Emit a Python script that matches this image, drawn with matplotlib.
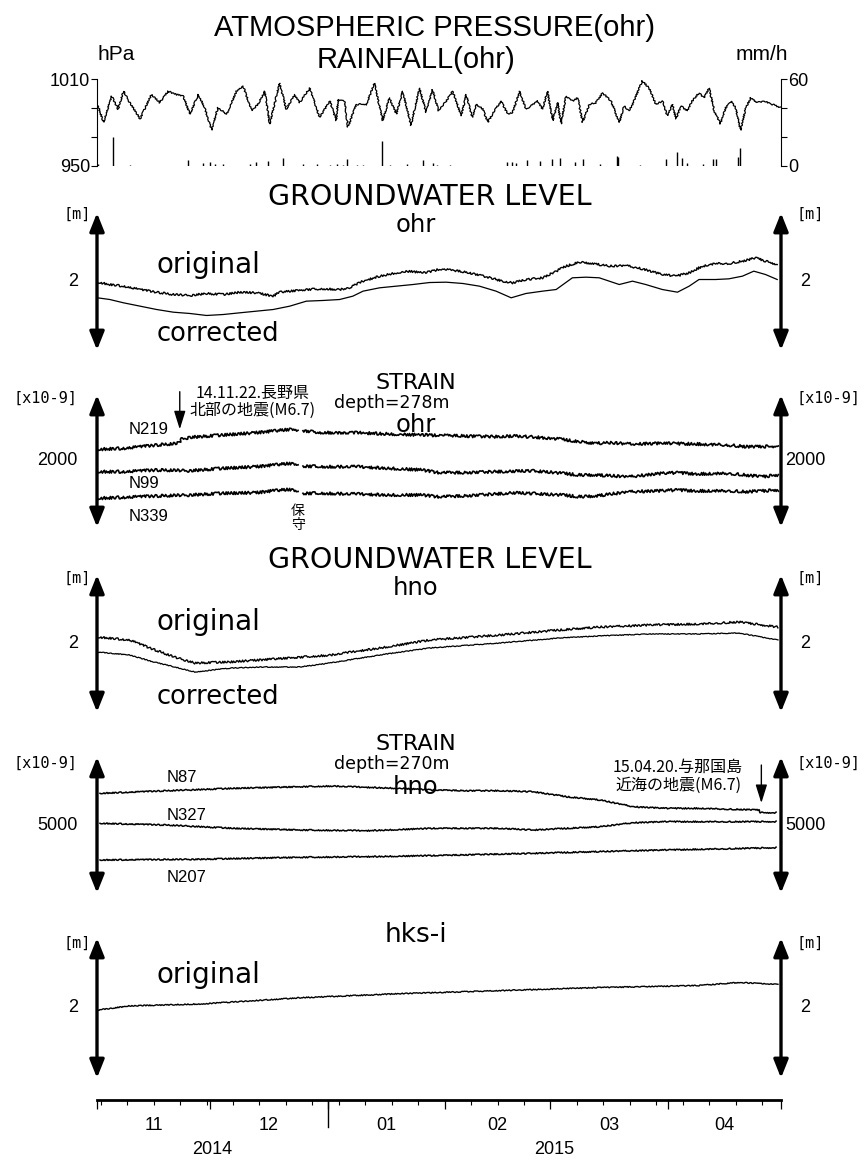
import numpy as np
import pandas as pd
import matplotlib
matplotlib.use('Agg')
import matplotlib.pyplot as plt
from matplotlib import font_manager

# time axis: days counted from 2014-11-01
START = pd.Timestamp('2014-11-01')
END = pd.Timestamp('2015-05-01')
NDAYS = (END - START).days
nan = np.nan

# ---- atmospheric pressure (hPa) and rainfall (mm/h), ohr ----
pres_day = [0, 1.7, 3.9, 5.6, 7.0, 8.7, 11.4, 14.4, 16.6, 18.8,
            21.1, 22.8, 24.6, 26.8, 28.5, 30.3, 32.0, 34.3, 36.9, 38.7,
            40.9, 42.6, 44.4, 45.7, 48.3, 50.1, 52.3, 53.6, 56.3, 58.9,
            61.6, 63.3, 63.8, 65.5, 66.4, 68.6, 71.3, 73.4, 75.6, 77.4,
            79.2, 80.9, 83.1, 85.3, 87.1, 88.8, 90.4, 92.4, 94.1, 96.4,
            97.7, 99.3, 100.3, 102.1, 103.4, 105.2, 106.9, 108.7, 110.0, 111.8,
            113.5, 114.8, 116.6, 117.9, 119.2, 120.6, 121.9, 122.8, 124.1, 125.8,
            127.2, 128.5, 130.3, 132.0, 133.8, 136.0, 138.2, 139.5, 140.8, 141.7,
            144.3, 146.1, 147.9, 149.6, 150.9, 152.3, 153.2, 154.5, 156.2, 157.5,
            159.3, 160.6, 162.0, 163.3, 165.0, 166.4, 167.7, 169.0, 170.3, 171.7,
            173.0, 174.7, 176.5, 178.7, 181.0]
pres_hpa = [993.7, 980.2, 998.1, 989.2, 1001.5, 993.7, 982.5, 999.3, 993.7, 1001.5,
            999.3, 998.1, 985.8, 999.3, 990.3, 974.7, 990.3, 985.8, 1001.5, 1004.9,
            988.1, 992.5, 1001.5, 979.1, 1007.1, 989.2, 999.3, 993.7, 1003.7, 983.6,
            994.8, 981.4, 995.9, 994.8, 976.9, 992.5, 992.5, 1007.1, 981.4, 997.0,
            985.8, 1001.5, 978.0, 1003.7, 987.0, 1002.6, 988.1, 994.8, 1001.5, 984.7,
            999.3, 983.6, 992.5, 989.2, 980.2, 988.1, 994.8, 985.8, 987.0, 1001.5,
            989.2, 991.4, 994.8, 989.2, 1001.5, 981.4, 993.7, 979.1, 998.1, 994.8,
            997.0, 980.2, 992.5, 993.7, 1000.4, 994.8, 980.2, 991.4, 988.1, 992.5,
            1008.7, 1003.7, 992.5, 994.8, 984.7, 992.5, 982.5, 991.4, 988.1, 994.8,
            1000.4, 997.0, 1003.7, 988.1, 979.1, 990.3, 994.8, 990.3, 974.7, 990.3,
            997.0, 993.7, 994.8, 992.5, 990.3]

rain_day = [0.3, 4.3, 8.7, 24.2, 28.1, 29.9, 31.2, 33.4, 40.5, 42.2,
            45.3, 49.3, 54.6, 58.1, 61.6, 63.4, 65.2, 66.1, 68.7, 70.5,
            75.3, 77.5, 81.9, 86.3, 89.0, 89.9, 93.4, 108.4, 109.7, 111.0,
            113.7, 117.2, 120.3, 122.5, 126.5, 128.7, 133.1, 137.5, 137.9, 143.7,
            150.7, 153.4, 154.7, 156.0, 160.4, 163.0, 163.9, 169.7, 170.1]
rain_mm = [1.5, 19.7, 0.8, 4.0, 2.0, 2.5, 1.5, 1.5, 1.5, 2.5,
           3.4, 5.6, 1.2, 1.5, 1.0, 1.5, 1.0, 4.5, 1.0, 1.0,
           17.5, 1.0, 1.5, 4.0, 2.0, 1.0, 0.8, 2.5, 3.0, 2.0,
           3.8, 3.4, 4.9, 5.6, 3.0, 4.9, 1.5, 7.2, 6.0, 1.0,
           4.9, 9.4, 5.6, 2.0, 1.5, 4.5, 5.0, 6.0, 12.3]

# ---- groundwater level ohr (m) ----
gw_ohr_day = [0.1, 3.4, 7.0, 11.4, 15.8, 20.2, 24.6, 29.0, 33.4, 37.8,
              42.2, 46.6, 48.3, 51.0, 55.4, 59.8, 64.2, 66.8, 70.4, 74.8,
              79.2, 82.7, 86.2, 88.0, 90.6, 94.1, 98.5, 103.0, 107.3, 110.0,
              113.5, 117.9, 121.5, 124.1, 127.6, 131.1, 135.5, 139.9, 144.3, 149.6,
              153.2, 156.7, 160.2, 163.7, 167.2, 170.8, 174.3, 176.9, 180.0]
gw_ohr_orig = [1.990, 1.956, 1.932, 1.883, 1.844, 1.810, 1.796, 1.825, 1.810, 1.844,
               1.835, 1.786, 1.844, 1.859, 1.883, 1.893, 1.883, 1.908, 2.005, 2.078,
               2.127, 2.151, 2.127, 2.140, 2.180, 2.165, 2.127, 2.068, 2.005, 1.981,
               2.029, 2.054, 2.151, 2.224, 2.282, 2.263, 2.224, 2.234, 2.185, 2.102,
               2.078, 2.127, 2.224, 2.263, 2.263, 2.297, 2.345, 2.297, 2.248]
gw_ohr_cday = [0.1, 3.4, 7.0, 11.4, 15.8, 20.2, 24.6, 29.0, 33.4, 37.8,
               42.2, 46.6, 51.0, 55.4, 59.8, 64.2, 67.7, 70.4, 74.8, 79.2,
               83.6, 88.0, 92.4, 96.8, 101.2, 105.6, 109.6, 113.5, 117.9, 121.5,
               125.8, 129.4, 132.9, 138.2, 141.7, 145.2, 149.6, 153.6, 156.7, 159.3,
               163.7, 167.2, 170.8, 173.8, 176.9, 180.0]
gw_ohr_corr = [1.762, 1.737, 1.689, 1.640, 1.591, 1.552, 1.533, 1.504, 1.518, 1.543,
               1.567, 1.591, 1.640, 1.713, 1.723, 1.737, 1.786, 1.859, 1.908, 1.932,
               1.956, 1.985, 1.990, 1.971, 1.932, 1.859, 1.762, 1.825, 1.859, 1.883,
               2.054, 2.063, 2.054, 1.956, 2.005, 1.956, 1.883, 1.844, 1.932, 2.029,
               2.029, 2.039, 2.078, 2.151, 2.102, 2.029]

# ---- strain ohr (x10-9), depth 278 m ----
n219_day = [0.1, 7.0, 15.8, 21.1, 21.8, 22.1, 24.6, 33.4, 42.2, 51.0, 53.2, 53.8,
            54.5, 59.8, 68.6, 77.4, 86.2, 96.8, 105.6, 110.0, 114.4, 123.2,
            127.6, 132.0, 136.4, 140.8, 149.6, 158.4, 167.2, 171.7, 176.0, 180.3]
n219_val = [2177, 2192, 2242, 2265, 2277, 2329, 2359, 2394, 2429, 2480, 2470, nan,
            2459, 2429, 2429, 2409, 2394, 2379, 2368, 2379, 2368, 2329,
            2292, 2268, 2277, 2258, 2268, 2258, 2242, 2217, 2217, 2227]
n99_day = [0.1, 7.0, 15.8, 24.6, 33.4, 42.2, 46.6, 51.0, 53.2, 53.8,
           54.5, 59.8, 68.6, 77.4, 86.2, 90.0, 96.8, 105.6, 114.4, 118.8,
           123.2, 127.6, 132.0, 140.8, 145.2, 149.6, 154.0, 158.4, 167.2, 171.7,
           176.0, 180.3]
n99_val = [1838, 1838, 1864, 1853, 1889, 1914, 1939, 1965, 1939, nan,
           1924, 1914, 1914, 1889, 1864, 1826, 1823, 1838, 1853, 1838,
           1814, 1788, 1788, 1762, 1788, 1814, 1823, 1803, 1814, 1788,
           1762, 1788]
n339_day = [0.1, 7.0, 15.8, 24.6, 33.4, 42.2, 46.6, 51.0, 53.2, 53.8,
            54.5, 59.8, 68.6, 77.4, 86.2, 90.0, 96.8, 105.6, 110.0, 114.4,
            123.2, 127.6, 132.0, 140.8, 149.6, 154.0, 158.4, 167.2, 171.7, 176.0,
            180.3]
n339_val = [1435, 1450, 1470, 1485, 1511, 1520, 1550, 1571, 1535, nan,
            1511, 1511, 1500, 1485, 1485, 1459, 1470, 1500, 1520, 1511,
            1485, 1459, 1470, 1535, 1550, 1561, 1546, 1550, 1535, 1546,
            1561]

# ---- groundwater level hno (m) ----
gw_hno_day = [0, 8.7, 14.0, 20.6, 25.9, 35.1, 43.1, 53.6, 61.6, 74.8,
              88.0, 106.5, 122.3, 132.9, 146.1, 159.3, 169.9, 180.2]
gw_hno_orig = [2.095, 2.05, 1.934, 1.80, 1.715, 1.73, 1.76, 1.80, 1.83, 1.934,
               2.05, 2.124, 2.197, 2.24, 2.27, 2.285, 2.314, 2.24]
gw_hno_corr = [1.876, 1.832, 1.745, 1.657, 1.584, 1.64, 1.657, 1.657, 1.715, 1.832,
               1.934, 2.007, 2.08, 2.11, 2.139, 2.139, 2.153, 2.05]

# ---- strain hno (x10-9), depth 270 m ----
n87_day = [0.8, 18.4, 36.0, 53.6, 62.4, 71.3, 80.1, 88.9, 97.8, 106.7,
           115.5, 124.3, 133.1, 141.9, 150.7, 159.5, 168.3, 175.2, 175.6, 179.7]
n87_val = [5466, 5504, 5539, 5563, 5573, 5554, 5539, 5515, 5504, 5504,
           5490, 5416, 5368, 5269, 5245, 5245, 5231, 5221, 5181, 5181]
n327_day = [0.8, 18.4, 36.0, 53.6, 71.3, 88.9, 106.7, 115.5, 124.3, 133.1,
            141.9, 150.7, 159.5, 179.7]
n327_val = [5025, 5000, 4951, 4927, 4916, 4951, 4951, 4927, 4951, 4975,
            5034, 5049, 5049, 5049]
n207_day = [0.8, 27.2, 53.6, 71.3, 88.9, 115.5, 141.9, 159.5, 179.7]
n207_val = [4486, 4496, 4525, 4534, 4550, 4584, 4622, 4643, 4666]

# ---- groundwater level hks-i (m) ----
hks_day = [0, 8.7, 27.7, 53.6, 80.0, 106.5, 132.9, 159.3, 169.9, 180.2]
hks_val = [1.97, 2.03, 2.058, 2.146, 2.204, 2.248, 2.292, 2.321, 2.365, 2.336]

# ---------------------------------------------------------------
names = {f.name for f in font_manager.fontManager.ttflist}
NARROW = 'Liberation Sans Narrow' if 'Liberation Sans Narrow' in names else 'Liberation Sans'
TITLE = 'DejaVu Sans'
JP = ['Noto Sans CJK JP', 'DejaVu Sans']
MONO = 'DejaVu Sans Mono'

W_PX, H_PX = 868, 1162
X0, X1 = 97, 781

fig = plt.figure(figsize=(W_PX / 100, H_PX / 100), dpi=100)


def fx(x):
    return x / W_PX


def fy(y):
    return 1 - y / H_PX


def panel(top, bottom):
    return fig.add_axes([fx(X0), fy(bottom), (X1 - X0) / W_PX, (bottom - top) / H_PX])


def ftext(x, y, s, **kw):
    kw.setdefault('ha', 'center')
    kw.setdefault('va', 'center')
    fig.text(fx(x), fy(y), s, **kw)


def arrow_axis(ax, lo, hi, label_val, label):
    for xa in (0, 1):
        ax.annotate('', xy=(xa, 1), xytext=(xa, 0), xycoords='axes fraction',
                    arrowprops=dict(arrowstyle='<|-|>,head_length=0.55,head_width=0.22',
                                    lw=2.4, color='k', mutation_scale=20,
                                    shrinkA=0, shrinkB=0))
    ax.set_xlim(0, NDAYS)
    ax.set_ylim(lo, hi)
    ax.axis('off')
    tr = ax.get_yaxis_transform()
    ax.text(-19 / (X1 - X0), label_val, label, transform=tr, ha='right', va='center',
            fontsize=13, family=NARROW)
    ax.text(1 + 24 / (X1 - X0), label_val, label, transform=tr, ha='center', va='center',
            fontsize=13, family=NARROW)


def wiggle(line, scale, length=2.5):
    line.set_sketch_params(scale=scale, length=length, randomness=3)


def header(y_main, main, sub, y_sub, depth=None, y_depth=None):
    # titles are placed by their baselines so the stacked lines stay tight
    ftext(430 if main.startswith('GROUND') else 416, y_main, main, family=TITLE,
          fontsize=20.5 if main.startswith('GROUND') else 16, va='baseline')
    if depth is not None:
        ftext(392, y_depth, depth, family=TITLE, fontsize=12.5, va='baseline')
    ftext(416, y_sub, sub, family=TITLE, fontsize=17.5, va='baseline')


# ---- panel 1: pressure + rain ----
ax_p = panel(79, 166)
ax_p.set_xlim(0, NDAYS)
ax_p.set_ylim(950, 1010)
(lp,) = ax_p.plot(pres_day, pres_hpa, color='k', lw=0.9)
wiggle(lp, 0.7, 2)
for s in ('top', 'bottom', 'right'):
    ax_p.spines[s].set_visible(False)
ax_p.set_xticks([])
ax_p.set_yticks([950, 970, 990, 1010])
ax_p.set_yticklabels(['950', '', '', '1010'], family=NARROW, fontsize=13)
ax_p.tick_params(axis='y', direction='out', length=4, pad=1, width=0.8)

ax_r = ax_p.twinx()
ax_r.set_ylim(0, 60)
ax_r.vlines(rain_day, 0, rain_mm, color='k', lw=1.0)
for s in ('top', 'bottom', 'left'):
    ax_r.spines[s].set_visible(False)
ax_r.set_yticks([0, 20, 40, 60])
ax_r.set_yticklabels(['0', '', '', '60'], family=NARROW, fontsize=13)
ax_r.tick_params(axis='y', direction='out', length=4, pad=1, width=0.8)

ftext(434, 28, 'ATMOSPHERIC PRESSURE(ohr)', family=NARROW, fontsize=21)
ftext(416, 60, 'RAINFALL(ohr)', family=NARROW, fontsize=21)
ftext(116, 54, 'hPa', family=NARROW, fontsize=15)
ftext(762, 54, 'mm/h', family=NARROW, fontsize=15)

# ---- panel 2: groundwater ohr ----
ax_g1 = panel(213, 350)
arrow_axis(ax_g1, 1, 3, 2, '2')
ax_g1.plot(gw_ohr_day, gw_ohr_orig, color='k', lw=1.0)
wiggle(ax_g1.lines[-1], 1.0, 2)
ax_g1.plot(gw_ohr_cday, gw_ohr_corr, color='k', lw=0.9)
header(205, 'GROUNDWATER LEVEL', 'ohr', 232)
ftext(77, 214, '[m]', family=MONO, fontsize=11)
ftext(810, 214, '[m]', family=MONO, fontsize=11)
ftext(157, 265, 'original', family=TITLE, fontsize=20, ha='left')
ftext(157, 334, 'corrected', family=TITLE, fontsize=18.5, ha='left')

# ---- panel 3: strain ohr ----
ax_s1 = panel(395, 527)
arrow_axis(ax_s1, 1000, 3000, 2000, '2000')
for d, v in ((n219_day, n219_val), (n99_day, n99_val), (n339_day, n339_val)):
    (ln,) = ax_s1.plot(d, v, color='k', lw=1.2)
    wiggle(ln, 1.4, 2)
ax_s1.annotate('', xy=(21.9, 2480), xytext=(21.9, 3050),
               arrowprops=dict(arrowstyle='-|>,head_length=0.8,head_width=0.25',
                               lw=1.0, color='k', mutation_scale=14, shrinkA=0, shrinkB=0),
               annotation_clip=False)
header(389, 'STRAIN', 'ohr', 432, 'depth=278m', 408)
ftext(45, 398, '[x10-9]', family=MONO, fontsize=11)
ftext(828, 398, '[x10-9]', family=MONO, fontsize=11)
ftext(129, 429, 'N219', family=NARROW, fontsize=12, ha='left')
ftext(129, 484, 'N99', family=NARROW, fontsize=12, ha='left')
ftext(129, 517, 'N339', family=NARROW, fontsize=12, ha='left')
ftext(253, 393, '14.11.22.長野県', family=JP, fontsize=11.5)
ftext(253, 410, '北部の地震(M6.7)', family=JP, fontsize=11.5)
ftext(298, 518, '保\n守', family=JP, fontsize=10, linespacing=1.0)

# ---- panel 4: groundwater hno ----
ax_g2 = panel(575, 712)
arrow_axis(ax_g2, 1, 3, 2, '2')
ax_g2.plot(gw_hno_day, gw_hno_orig, color='k', lw=1.0)
wiggle(ax_g2.lines[-1], 1.0, 2)
ax_g2.plot(gw_hno_day, gw_hno_corr, color='k', lw=0.9)
wiggle(ax_g2.lines[-1], 0.4, 3)
header(568, 'GROUNDWATER LEVEL', 'hno', 595)
ftext(77, 578, '[m]', family=MONO, fontsize=11)
ftext(810, 578, '[m]', family=MONO, fontsize=11)
ftext(157, 622, 'original', family=TITLE, fontsize=20, ha='left')
ftext(157, 697, 'corrected', family=TITLE, fontsize=18.5, ha='left')

# ---- panel 5: strain hno ----
ax_s2 = panel(757, 893)
arrow_axis(ax_s2, 4000, 6000, 5000, '5000')
for d, v in ((n87_day, n87_val), (n327_day, n327_val), (n207_day, n207_val)):
    (ln,) = ax_s2.plot(d, v, color='k', lw=1.1)
    wiggle(ln, 0.6, 2)
ax_s2.annotate('', xy=(175.8, 5323), xytext=(175.8, 5882),
               arrowprops=dict(arrowstyle='-|>,head_length=0.8,head_width=0.25',
                               lw=1.0, color='k', mutation_scale=14, shrinkA=0, shrinkB=0),
               annotation_clip=False)
header(750, 'STRAIN', 'hno', 794, 'depth=270m', 769)
ftext(45, 763, '[x10-9]', family=MONO, fontsize=11)
ftext(828, 763, '[x10-9]', family=MONO, fontsize=11)
ftext(167, 777, 'N87', family=NARROW, fontsize=12, ha='left')
ftext(167, 816, 'N327', family=NARROW, fontsize=12, ha='left')
ftext(167, 877, 'N207', family=NARROW, fontsize=12, ha='left')
ftext(678, 767, '15.04.20.与那国島', family=JP, fontsize=11.5)
ftext(678, 785, '近海の地震(M6.7)', family=JP, fontsize=11.5)

# ---- panel 6: hks-i ----
ax_h = panel(938, 1078)
arrow_axis(ax_h, 1, 3, 2, '2')
ax_h.plot(hks_day, hks_val, color='k', lw=1.0)
wiggle(ax_h.lines[-1], 0.5, 3)
ftext(416, 935, 'hks-i', family=TITLE, fontsize=19)
ftext(77, 943, '[m]', family=MONO, fontsize=11)
ftext(810, 943, '[m]', family=MONO, fontsize=11)
ftext(157, 975, 'original', family=TITLE, fontsize=20, ha='left')

# ---- time axis ----
ax_t = panel(1100, 1162)
ax_t.set_xlim(0, NDAYS)
ax_t.set_ylim(0, 1)
for s in ('left', 'right', 'bottom'):
    ax_t.spines[s].set_visible(False)
ax_t.spines['top'].set_linewidth(2)
month_starts = pd.date_range(START, END, freq='MS')
month_days = (month_starts - START).days.values
sundays = (pd.date_range(START, END, freq='W-SUN') - START).days.values
ax_t.xaxis.set_ticks_position('top')
ax_t.set_xticks(month_days)
ax_t.set_xticks(sundays, minor=True)
ax_t.tick_params(axis='x', which='major', direction='in', length=6.5, width=0.9,
                 labeltop=False, labelbottom=False)
ax_t.tick_params(axis='x', which='minor', direction='in', length=3.5, width=0.8)
ax_t.set_yticks([])
year_start = (pd.Timestamp('2015-01-01') - START).days
ax_t.axvline(year_start, ymin=1 - 27 / 62, ymax=1, color='k', lw=1.0)
for a, b, m in zip(month_days[:-1], month_days[1:], month_starts[:-1]):
    ax_t.text((a + b) / 2, (1162 - 1125) / 62, m.strftime('%m'), ha='center', va='center',
              family=NARROW, fontsize=13)
ax_t.text(year_start / 2, (1162 - 1150) / 62, '2014', ha='center', va='center',
          family=NARROW, fontsize=13)
ax_t.text((year_start + NDAYS) / 2, (1162 - 1150) / 62, '2015', ha='center', va='center',
          family=NARROW, fontsize=13)

fig.savefig('out.png', dpi=100)
